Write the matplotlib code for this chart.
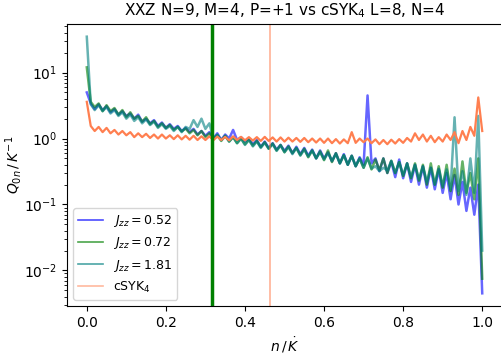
import numpy as np
import matplotlib
matplotlib.use('Agg')
import matplotlib.pyplot as plt

# Q_0n spectra, one value per step of 0.01 in n/K
q_052 = [5.0, 3.4, 2.8, 3.3, 2.7, 3.1, 2.5, 2.8, 2.3, 2.6,
         2.2, 2.4, 2.0, 2.3, 1.8, 2.0, 1.7, 1.9, 1.55, 1.75,
         1.45, 1.65, 1.4, 1.55, 1.3, 1.45, 1.25, 1.4, 1.15, 1.3,
         1.1, 1.25, 1.0, 1.2, 0.95, 1.15, 1.0, 1.35, 0.95, 1.05,
         0.9, 1.0, 0.82, 0.95, 0.75, 0.9, 0.72, 0.85, 0.68, 0.8,
         0.65, 0.78, 0.6, 0.75, 0.58, 0.72, 0.55, 0.68, 0.5, 0.66,
         0.5, 0.62, 0.45, 0.6, 0.42, 0.58, 0.4, 0.55, 0.38, 0.52,
         0.4, 4.5, 0.42, 0.5, 0.32, 0.5, 0.3, 0.45, 0.26, 0.48,
         0.25, 0.42, 0.22, 0.4, 0.2, 0.38, 0.18, 0.36, 0.17, 0.34,
         0.15, 0.3, 0.12, 0.28, 0.1, 0.22, 0.08, 0.18, 0.07, 0.2,
         0.0045]
q_072 = [12.0, 3.6, 3.0, 3.4, 2.6, 3.2, 2.6, 2.9, 2.3, 2.7,
         2.1, 2.5, 2.0, 2.2, 1.8, 2.1, 1.65, 1.85, 1.5, 1.7,
         1.45, 1.6, 1.35, 1.5, 1.28, 1.42, 1.2, 1.35, 1.12, 1.3,
         1.05, 1.2, 0.98, 1.12, 0.92, 1.1, 0.9, 1.05, 0.85, 1.0,
         0.82, 0.96, 0.78, 0.92, 0.74, 0.88, 0.7, 0.84, 0.66, 0.8,
         0.62, 0.76, 0.6, 0.72, 0.56, 0.7, 0.52, 0.66, 0.5, 0.64,
         0.47, 0.66, 0.44, 0.6, 0.42, 0.56, 0.4, 0.55, 0.38, 0.5,
         0.36, 0.52, 0.34, 0.48, 0.33, 0.5, 0.3, 0.46, 0.3, 0.44,
         0.27, 0.42, 0.25, 0.42, 0.23, 0.4, 0.2, 0.42, 0.2, 0.38,
         0.18, 0.4, 0.16, 0.35, 0.14, 0.45, 0.15, 0.3, 0.12, 0.5,
         0.0075]
q_181 = [35.0, 3.3, 2.7, 3.2, 2.6, 3.0, 2.4, 2.7, 2.2, 2.5,
         2.0, 2.3, 1.85, 2.1, 1.7, 1.95, 1.6, 1.8, 1.45, 1.65,
         1.4, 1.55, 1.3, 1.5, 1.25, 1.5, 1.4, 1.9, 1.5, 2.0,
         1.4, 1.7, 1.0, 1.15, 0.95, 1.1, 0.9, 1.05, 0.85, 1.0,
         0.8, 0.95, 0.76, 0.9, 0.72, 0.86, 0.7, 0.82, 0.65, 0.78,
         0.62, 0.74, 0.58, 0.72, 0.55, 0.68, 0.53, 0.66, 0.5, 0.62,
         0.48, 0.6, 0.46, 0.58, 0.42, 0.56, 0.4, 0.54, 0.38, 0.5,
         0.36, 0.5, 0.35, 0.38, 0.32, 0.36, 0.33, 0.46, 0.3, 0.44,
         0.28, 0.42, 0.26, 0.4, 0.24, 0.38, 0.22, 0.36, 0.2, 0.35,
         0.19, 0.34, 0.17, 2.1, 0.16, 0.32, 0.14, 0.5, 0.15, 2.2,
         0.02]
q_syk = [3.6, 1.55, 1.3, 1.5, 1.25, 1.45, 1.2, 1.35, 1.15, 1.3,
         1.12, 1.25, 1.05, 1.2, 1.05, 1.18, 1.02, 1.15, 1.0, 1.15,
         1.0, 1.12, 0.98, 1.12, 0.97, 1.1, 0.96, 1.1, 0.95, 1.08,
         0.95, 1.08, 0.94, 1.07, 0.95, 1.06, 0.94, 1.08, 0.95, 1.06,
         0.94, 1.05, 0.93, 1.05, 0.92, 1.06, 0.92, 1.04, 0.9, 1.04,
         0.9, 1.03, 0.9, 1.02, 0.89, 1.02, 0.88, 1.0, 0.87, 1.0,
         0.86, 1.0, 0.85, 0.98, 0.84, 0.97, 0.85, 1.25, 0.86, 1.0,
         0.88, 1.0, 0.85, 0.97, 0.82, 0.95, 0.82, 0.96, 0.84, 0.98,
         0.86, 1.02, 0.9, 1.2, 0.95, 1.15, 0.9, 1.1, 0.88, 1.05,
         0.9, 1.15, 0.95, 1.25, 0.85, 1.3, 0.95, 1.5, 1.1, 4.2,
         1.3]

jzz = ['0.52', '0.72', '1.81']
colors = ['blue', 'green', 'teal']
series = [q_052, q_072, q_181]
# mean-level positions marked with vertical lines
vline_jzz = 0.316
vline_syk = 0.463

fig = plt.figure(figsize=(5.02, 3.56), dpi=100)
ax = fig.add_axes([0.1335, 0.14, 0.8665, 0.793])

for q, c, j in zip(series, colors, jzz):
    x = np.arange(len(q)) / (len(q) - 1)
    ax.plot(x, q, color=c, alpha=0.6, lw=1.8, label=r'$J_{zz} = %s$' % j)
x = np.arange(len(q_syk)) / (len(q_syk) - 1)
ax.plot(x, q_syk, color='coral', lw=1.6, label=r'cSYK$_4$')

ax.axvline(vline_jzz + 0.003, color='#1060b0', lw=1.2)
ax.axvline(vline_jzz, color='green', lw=2.5)
ax.axvline(vline_syk, color='coral', alpha=0.6, lw=1.2)

ax.set_yscale('log')
ax.set_xlabel(r'$n\,/\,\dot{K}$')
ax.set_ylabel(r'$Q_{0n}\,/\,K^{-1}$')
ax.yaxis.set_label_coords(-0.1, 0.5)
ax.set_title(r'XXZ N=9, M=4, P=+1 vs cSYK$_4$ L=8, N=4', fontsize=11)
leg = ax.legend(loc='lower left', fontsize=9)
for h in leg.legend_handles[:3]:
    h.set_alpha(0.7)
    h.set_linewidth(1.2)
leg.legend_handles[3].set_alpha(0.55)
leg.legend_handles[3].set_linewidth(1.2)

fig.savefig('out.png', dpi=100)
